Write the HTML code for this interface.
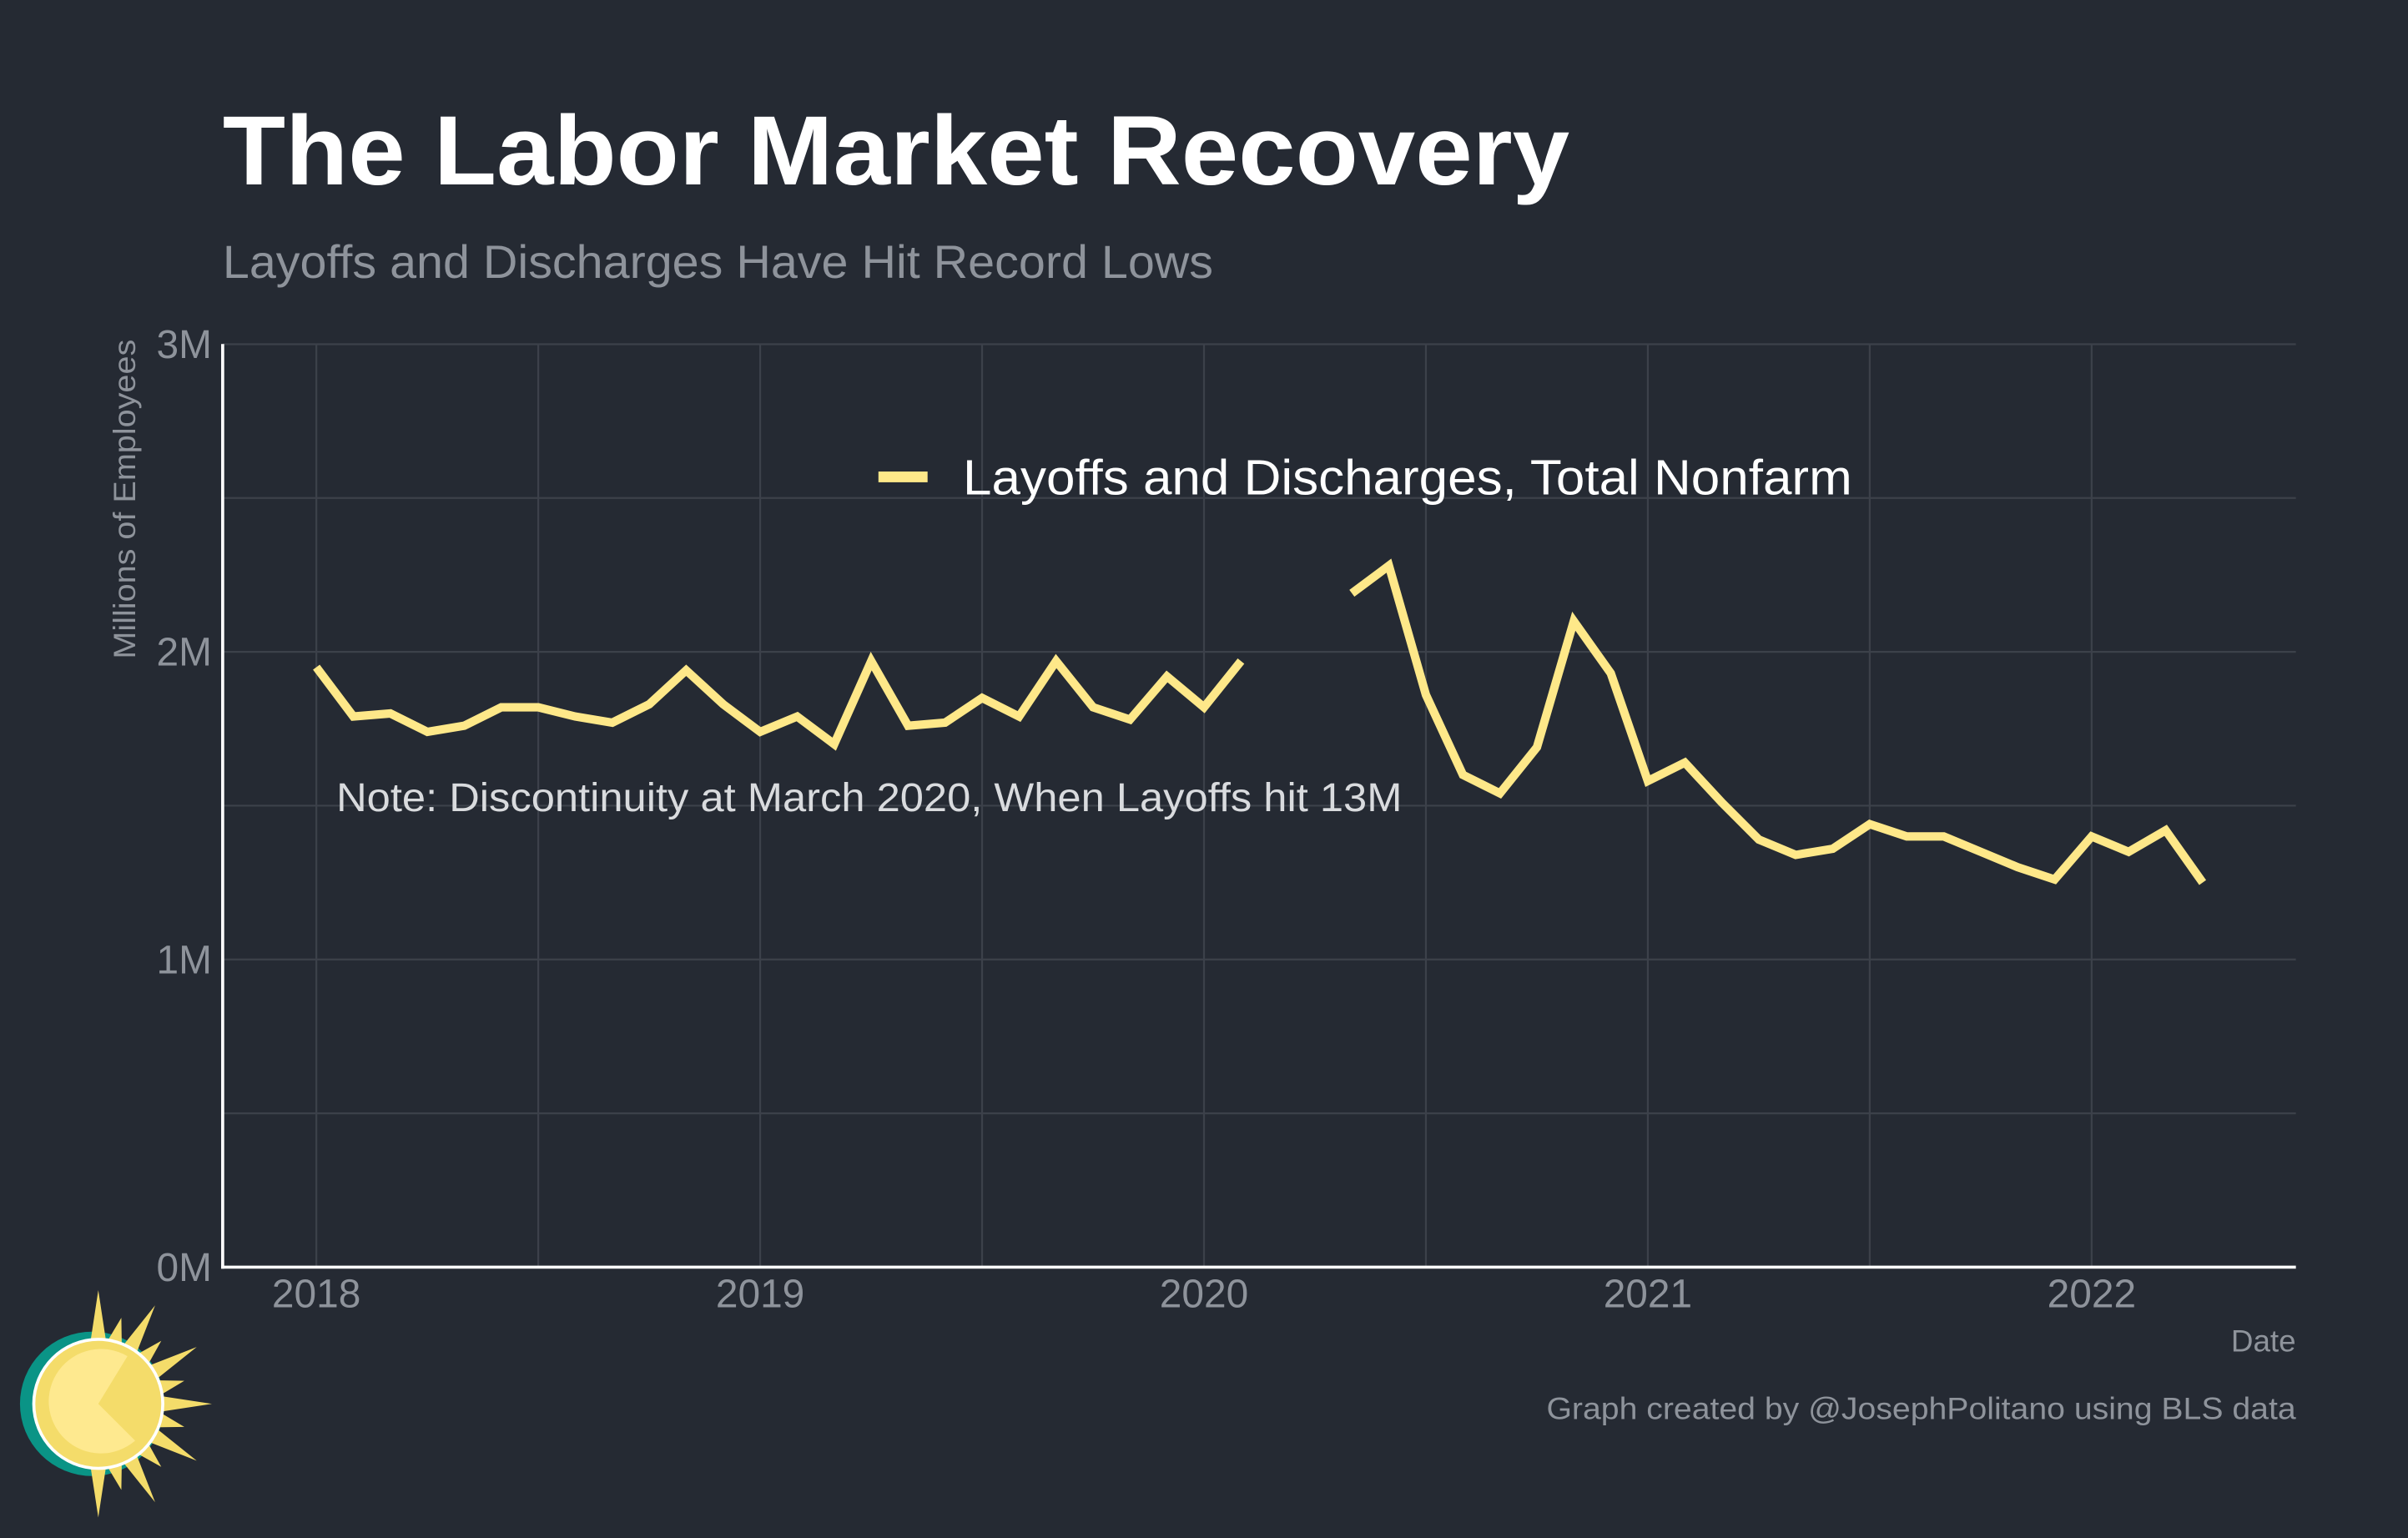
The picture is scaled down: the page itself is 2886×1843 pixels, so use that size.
<!DOCTYPE html>
<html><head><meta charset="utf-8"><style>
html,body{margin:0;padding:0;background:#252a33;}
svg{display:block;font-family:"Liberation Sans",Arial,sans-serif;}
</style></head><body>
<svg id="chart" width="2886" height="1843" viewBox="0 0 1568 1001.35" preserveAspectRatio="none" xmlns="http://www.w3.org/2000/svg">
<rect width="1568" height="1002" fill="#252a33"/>
<text x="145" y="120" fill="#ffffff" font-size="64" font-weight="bold" textLength="877" lengthAdjust="spacingAndGlyphs">The Labor Market Recovery</text>
<text x="145" y="181" fill="#8e939b" font-size="30" textLength="645" lengthAdjust="spacingAndGlyphs">Layoffs and Discharges Have Hit Record Lows</text>
<g id="grid"></g>
<g id="axes"></g>
<text transform="translate(88,325) rotate(-90)" text-anchor="middle" fill="#8e939b" font-size="20" textLength="208" lengthAdjust="spacingAndGlyphs">Millions of Employees</text>
<text x="1495" y="880" text-anchor="end" fill="#8e939b" font-size="20">Date</text>
<g id="series"></g>
<g>
<rect x="572" y="307" width="32" height="7" fill="#fee889"/>
<text x="627" y="322" fill="#ffffff" font-size="32" textLength="579" lengthAdjust="spacingAndGlyphs">Layoffs and Discharges, Total Nonfarm</text>
</g>
<text x="219" y="528" fill="#d9dbde" font-size="26" textLength="694" lengthAdjust="spacingAndGlyphs">Note: Discontinuity at March 2020, When Layoffs hit 13M</text>
<text x="1007" y="924" fill="#8e939b" font-size="20" textLength="488" lengthAdjust="spacingAndGlyphs">Graph created by @JosephPolitano using BLS data</text>
<g>
<circle cx="60" cy="914" r="47" fill="#0a9486"/>
<g id="rays" fill="#f4dc6a"></g>
<circle cx="64" cy="914" r="43" fill="#ffffff"/>
<circle cx="64" cy="914" r="41" fill="#f4dc6a"/>
<path d="M64,914 L83,883 A34,34 0 1 0 88,938 Z" fill="#fee98f"/>
</g>
</svg>
<script>
const years = [2018, 2019, 2020, 2021, 2022];
const yTicks = [0, 1, 2, 3];
const yTickLabels = ["0M", "1M", "2M", "3M"];
const seg1Start = [2018, 0];
const seg1Values = [1.95,1.79,1.80,1.74,1.76,1.82,1.82,1.79,1.77,1.83,1.94,1.83,
  1.74,1.79,1.70,1.97,1.76,1.77,1.85,1.79,1.97,1.82,1.78,1.92,
  1.82,1.97];
const seg2Start = [2020, 4];
const seg2Values = [2.19,2.28,1.86,1.60,1.54,1.69,2.10,1.93,
  1.58,1.64,1.51,1.39,1.34,1.36,1.44,1.40,1.40,1.35,1.30,1.26,
  1.40,1.35,1.42,1.25];

const NS = "http://www.w3.org/2000/svg";
const X0 = 206, PXY = 289, Y0 = 825, PXM = 200.3;
const xs = t => X0 + (t - 2018) * PXY;
const ys = v => Y0 - v * PXM;
function mk(tag, attrs, parent){const e=document.createElementNS(NS,tag);for(const k in attrs)e.setAttribute(k,attrs[k]);parent.appendChild(e);return e;}
const grid = document.getElementById('grid');
for (let v = 0.5; v <= 3; v += 0.5) {
  const l = mk('line', {x1:145, x2:1495, y1:ys(v), y2:ys(v), stroke:'#3c414a', 'stroke-width':1.2}, grid);
  
  
}
for (let t = 2018; t <= 2022; t += 0.5) {
  const l = mk('line', {x1:xs(t), x2:xs(t), y1:224, y2:825, stroke:'#3c414a', 'stroke-width':1.2}, grid);
  
  
}
const axes = document.getElementById('axes');
mk('line', {x1:145, x2:145, y1:224, y2:826, stroke:'#fff', 'stroke-width':2}, axes);
mk('line', {x1:144, x2:1495, y1:825, y2:825, stroke:'#fff', 'stroke-width':2}, axes);
yTicks.forEach((v, i) => {
  const t = mk('text', {x:138, y:ys(v)+9, 'text-anchor':'end', fill:'#8e939b', 'font-size':26}, axes);
  t.textContent = yTickLabels[i];
  
  
});
years.forEach(y => {
  const t = mk('text', {x:xs(y), y:851, 'text-anchor':'middle', fill:'#8e939b', 'font-size':26}, axes);
  t.textContent = String(y);
  
  
});
const series = document.getElementById('series');
function seg(start, vals, name){
  const pts = vals.map((v,i)=> xs(start[0] + (start[1]+i)/12).toFixed(1)+','+ys(v).toFixed(1)).join(' ');
  const p = mk('polyline', {points:pts, fill:'none', stroke:'#fee889', 'stroke-width':5.5, 'stroke-linejoin':'miter'}, series);
  
  
}
seg(seg1Start, seg1Values, 'layoffs-line-pre-2020');
seg(seg2Start, seg2Values, 'layoffs-line-post-2020');
const rays = document.getElementById('rays');
const cx=64, cy=914;
for (let a=-90; a<=90; a+=15) {
  const r = (a%30===0)? 74 : 58;
  const rad=a*Math.PI/180, w=5*Math.PI/180;
  const p1=[cx+40*Math.cos(rad-w*1.5), cy+40*Math.sin(rad-w*1.5)];
  const p2=[cx+r*Math.cos(rad), cy+r*Math.sin(rad)];
  const p3=[cx+40*Math.cos(rad+w*1.5), cy+40*Math.sin(rad+w*1.5)];
  mk('polygon',{points:[p1,p2,p3].map(p=>p.join(',')).join(' ')}, rays);
}
</script>
</body></html>
